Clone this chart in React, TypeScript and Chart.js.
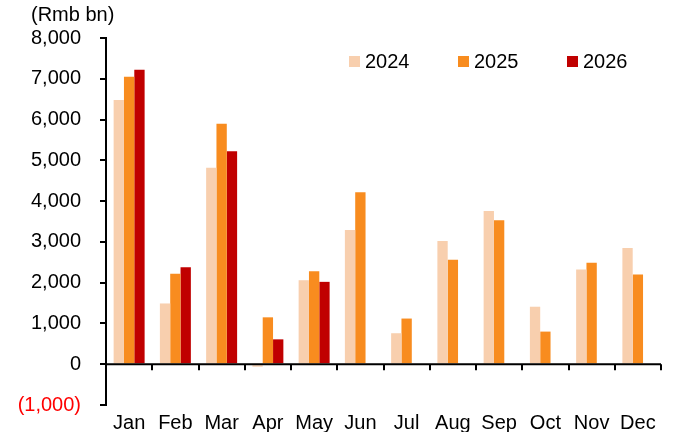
import React, { useEffect, useRef } from "react";
import { Chart, registerables } from "chart.js";

Chart.register(...registerables);

const months = ["Jan", "Feb", "Mar", "Apr", "May", "Jun", "Jul", "Aug", "Sep", "Oct", "Nov", "Dec"];
const s2024 = [6480, 1490, 4820, -60, 2060, 3290, 760, 3020, 3760, 1410, 2320, 2850];
const s2025 = [7050, 2220, 5900, 1150, 2280, 4220, 1120, 2560, 3530, 800, 2490, 2200];
const s2026: (number | null)[] = [7220, 2380, 5220, 610, 2020, null, null, null, null, null, null, null];
const seriesNames = ["2024", "2025", "2026"];
const seriesColors = ["#F8CFAE", "#F88C1F", "#C00000"];

const FONT = "'Liberation Sans', Arial, sans-serif";

const fmt = (v: number) => Math.abs(v).toLocaleString("en-US");

const zeroLinePlugin = {
  id: "zeroLine",
  afterDatasetsDraw(chart: any) {
    const { ctx, chartArea, scales } = chart;
    const y0 = scales.y.getPixelForValue(0);
    const n = months.length;
    const w = (chartArea.right - chartArea.left) / n;
    ctx.save();
    ctx.strokeStyle = "#000";
    ctx.lineWidth = 2;
    ctx.beginPath();
    ctx.moveTo(chartArea.left, y0);
    ctx.lineTo(chartArea.right, y0);
    for (let i = 1; i <= n; i++) {
      const x = Math.round(chartArea.left + i * w);
      ctx.moveTo(x, y0);
      ctx.lineTo(x, y0 + 6);
    }
    ctx.stroke();
    ctx.restore();
  },
};

export default function App() {
  const ref = useRef<HTMLCanvasElement | null>(null);
  useEffect(() => {
    if (!ref.current) return;
    const chart = new Chart(ref.current, {
      type: "bar",
      data: {
        labels: months,
        datasets: [s2024, s2025, s2026].map((d, i) => ({
          label: seriesNames[i],
          data: d,
          backgroundColor: seriesColors[i],
          borderWidth: 0,
          barPercentage: 1,
          categoryPercentage: 0.67,
        })),
      },
      options: {
        animation: false,
        responsive: false,
        devicePixelRatio: 1,
        layout: { padding: { left: 0, right: 14, top: 38, bottom: 0 } },
        plugins: { legend: { display: false }, tooltip: { enabled: false } },
        scales: {
          x: {
            grid: { display: false, drawTicks: false },
            border: { display: false },
            ticks: { color: "#000", padding: 6, font: { family: FONT, size: 20 } },
            afterFit: (s: any) => {
              s.height = 27;
            },
          },
          y: {
            min: -1000,
            max: 8000,
            border: { display: true, color: "#000", width: 2 },
            grid: { drawOnChartArea: false, drawTicks: true, tickLength: 6, color: "#000", lineWidth: 2 },
            ticks: {
              stepSize: 1000,
              padding: 19,
              font: { family: FONT, size: 20 },
              color: (c: any) => (c.tick && c.tick.value < 0 ? "#FF0000" : "#000"),
              callback: (v: any) => (v < 0 ? `(${fmt(v)})` : fmt(v)),
            },
            afterFit: (s: any) => {
              s.width = 106;
            },
          },
        },
      },
      plugins: [zeroLinePlugin],
    });
    return () => chart.destroy();
  }, []);

  const legendX = [349, 458, 567];
  return (
    <div style={{ position: "fixed", left: 0, top: 0, width: 675, height: 436, background: "#fff", fontFamily: FONT }}>
      <canvas ref={ref} width={675} height={436} style={{ position: "absolute", left: 0, top: 0, width: 675, height: 436 }} />
      <div style={{ position: "absolute", left: 31, top: 4, fontSize: 20, lineHeight: "20px", color: "#000" }}>(Rmb bn)</div>
      {seriesNames.map((n, i) => (
        <div key={n} style={{ position: "absolute", left: legendX[i], top: 51, height: 20, display: "flex", alignItems: "center" }}>
          <span style={{ display: "inline-block", width: 11, height: 11, background: seriesColors[i], marginRight: 5 }} />
          <span style={{ fontSize: 20, lineHeight: "20px", color: "#000" }}>{n}</span>
        </div>
      ))}
    </div>
  );
}
